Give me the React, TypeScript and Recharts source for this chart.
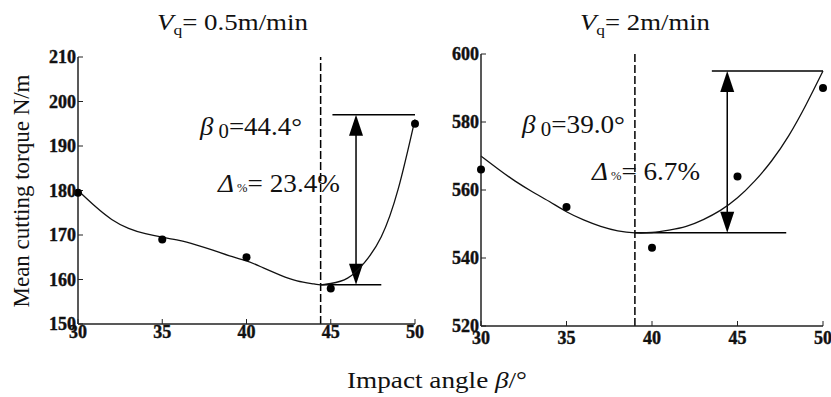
import {
  ComposedChart,
  Line,
  Scatter,
  XAxis,
  YAxis,
  ReferenceLine,
} from "recharts";

const FONT = '"Liberation Serif", "Times New Roman", serif';

// impact angle samples (measured)
const angles = [30, 35, 40, 45, 50];
const torqueSlow = [179.5, 169, 165, 158, 195];
const torqueFast = [566, 555, 543, 564, 590];

// fitted curves
const fitAnglesSlow = [30, 31, 32, 33, 34, 35, 36, 37, 38, 39, 40, 41, 42, 43, 44, 44.4, 45, 46, 47, 48, 49, 50];
const fitSlow = [180, 176.5, 173.5, 171.5, 170.3, 169.5, 168.8, 167.8, 166.6, 165.3, 164.2, 162.6, 161, 159.7, 159, 158.8, 159.1, 160.3, 163.8, 169.6, 180.3, 196];
const fitAnglesFast = [30, 31, 32, 33, 34, 35, 36, 37, 38, 39, 40, 41, 42, 43, 44, 45, 46, 47, 48, 49, 50];
const fitFast = [570, 566.2, 562.6, 559.5, 556.6, 553.6, 551.2, 549.3, 548, 547.4, 547.5, 548.2, 549.3, 551.3, 554, 557.7, 562.6, 568.6, 576, 585, 595];

const xTicks = [30, 35, 40, 45, 50];
const yTicksSlow = [150, 160, 170, 180, 190, 200, 210];
const yTicksFast = [520, 540, 560, 580, 600];

// annotations: [beta0, min, max, arrowX, topLineStart, bottomLineEnd]
const annotSlow = [44.4, 158.8, 197, 46.5, 45.1, 48.0];
const annotFast = [39.0, 547.4, 595, 44.4, 43.5, 47.85];

const toRows = (xs: number[], ys: number[]) => xs.map((x, i) => ({ x, y: ys[i] }));

const Arrow = (p: any) => {
  const x = p.x1;
  const top = Math.min(p.y1, p.y2);
  const bot = Math.max(p.y1, p.y2);
  const h = 21;
  const w = 7;
  return (
    <g>
      <line x1={x} x2={x} y1={top + h - 2} y2={bot - h + 2} stroke="#000" strokeWidth={1.5} />
      <polygon points={`${x},${top} ${x - w},${top + h} ${x + w},${top + h}`} fill="#000" />
      <polygon points={`${x},${bot} ${x - w},${bot - h} ${x + w},${bot - h}`} fill="#000" />
    </g>
  );
};

// bold serif tick numbers, a bit heavier like the scanned figure
const XTick = (p: any) => (
  <text x={p.x} y={p.y} dy="0.71em" textAnchor="middle" fontFamily={FONT} fontWeight="bold"
    fontSize={18} fill="#111" stroke="#111" strokeWidth={0.4}>
    {p.payload.value}
  </text>
);

const YTick = (p: any) => (
  <text x={p.x} y={p.y} dy="0.34em" textAnchor="end" fontFamily={FONT} fontWeight="bold"
    fontSize={18} fill="#111" stroke="#111" strokeWidth={0.4}>
    {p.payload.value}
  </text>
);

const axisLine = { stroke: "#222", strokeWidth: 1.5 };

const Panel = ({
  width, margin, xs, ys, fx, fy, domain, yTicks, annot, xTickMargin,
}: any) => {
  const [b0, mn, mx, ax, topStart, botEnd] = annot;
  return (
    <ComposedChart width={width} height={397} margin={margin}>
      <XAxis xAxisId={0} type="number" dataKey="x" domain={[30, 50]} ticks={xTicks} interval={0}
        tickSize={-5} tickMargin={xTickMargin} tick={<XTick />} axisLine={axisLine} tickLine={{ stroke: "#222" }} height={30} />
      <XAxis xAxisId="top" orientation="top" type="number" dataKey="x" domain={[30, 50]} ticks={xTicks} interval={0}
        tickSize={-5} tick={false} axisLine={axisLine} tickLine={{ stroke: "#222" }} height={0} />
      <YAxis yAxisId={0} type="number" domain={domain} ticks={yTicks} interval={0}
        tickSize={-5} tickMargin={7} tick={<YTick />} axisLine={axisLine} tickLine={{ stroke: "#222" }} width={40} />
      <YAxis yAxisId="right" orientation="right" type="number" domain={domain} ticks={yTicks} interval={0}
        tickSize={-5} tick={false} axisLine={axisLine} tickLine={{ stroke: "#222" }} width={0} />
      <ReferenceLine x={b0} stroke="#000" strokeWidth={1.5} strokeDasharray="8 3" />
      <ReferenceLine segment={[{ x: topStart, y: mx }, { x: 50, y: mx }]} stroke="#000" strokeWidth={1.5} />
      <ReferenceLine segment={[{ x: b0, y: mn }, { x: botEnd, y: mn }]} stroke="#000" strokeWidth={1.5} />
      <ReferenceLine segment={[{ x: ax, y: mn }, { x: ax, y: mx }]} shape={Arrow} />
      <Line data={toRows(fx, fy)} dataKey="y" type="natural" stroke="#111" strokeWidth={1.3}
        dot={false} activeDot={false} isAnimationActive={false} />
      <Scatter data={toRows(xs, ys)} dataKey="y" isAnimationActive={false}
        shape={(p: any) => <circle cx={p.cx} cy={p.cy} r={4} fill="#000" />} />
    </ComposedChart>
  );
};

export default function App() {
  return (
    <div style={{ position: "absolute", left: 0, top: 0, width: 831, height: 397, background: "#fff", fontFamily: FONT }}>
      <div style={{ position: "absolute", left: 420, top: 0 }}>
        <Panel width={411} margin={{ top: 54, right: 8, bottom: 41, left: 21 }}
          xs={angles} ys={torqueFast} fx={fitAnglesFast} fy={fitFast}
          domain={[520, 600]} yTicks={yTicksFast} annot={annotFast} xTickMargin={10} />
      </div>
      <div style={{ position: "absolute", left: 0, top: 0 }}>
        <Panel width={440} margin={{ top: 57, right: 25, bottom: 43, left: 38 }}
          xs={angles} ys={torqueSlow} fx={fitAnglesSlow} fy={fitSlow}
          domain={[150, 210]} yTicks={yTicksSlow} annot={annotSlow} xTickMargin={6} />
      </div>
      <svg width={831} height={397} style={{ position: "absolute", left: 0, top: 0, pointerEvents: "none" }}
        fontFamily={FONT} fill="#111">
        <text x={157} y={30} fontSize={23} textLength={151} lengthAdjust="spacingAndGlyphs">
          <tspan fontStyle="italic">V</tspan>
          <tspan fontSize={15} dy={5}>q</tspan>
          <tspan dy={-5}>= 0.5m/min</tspan>
        </text>
        <text x={580} y={30} fontSize={23} textLength={130} lengthAdjust="spacingAndGlyphs">
          <tspan fontStyle="italic">V</tspan>
          <tspan fontSize={15} dy={5}>q</tspan>
          <tspan dy={-5}>= 2m/min</tspan>
        </text>
        <text x={200} y={135} fontSize={26} textLength={102} lengthAdjust="spacingAndGlyphs">
          <tspan fontStyle="italic">β</tspan>
          <tspan fontSize={20} dy={3}> 0</tspan>
          <tspan dy={-3}>=44.4°</tspan>
        </text>
        <text x={218} y={192} fontSize={26} textLength={122} lengthAdjust="spacingAndGlyphs">
          <tspan fontStyle="italic">Δ</tspan>
          <tspan fontSize={12}> %</tspan>
          <tspan>= 23.4%</tspan>
        </text>
        <text x={522} y={133} fontSize={26} textLength={103} lengthAdjust="spacingAndGlyphs">
          <tspan fontStyle="italic">β</tspan>
          <tspan fontSize={20} dy={3}> 0</tspan>
          <tspan dy={-3}>=39.0°</tspan>
        </text>
        <text x={592} y={180} fontSize={26} textLength={108} lengthAdjust="spacingAndGlyphs">
          <tspan fontStyle="italic">Δ</tspan>
          <tspan fontSize={12}> %</tspan>
          <tspan>= 6.7%</tspan>
        </text>
        <text x={347} y={388} fontSize={24} textLength={180} lengthAdjust="spacingAndGlyphs">
          Impact angle <tspan fontStyle="italic"> β</tspan>/°
        </text>
        <text transform="rotate(-90)" x={-191} y={29} fontSize={23} textAnchor="middle" textLength={233}
          lengthAdjust="spacingAndGlyphs">
          Mean cutting torque N/m
        </text>
      </svg>
    </div>
  );
}
